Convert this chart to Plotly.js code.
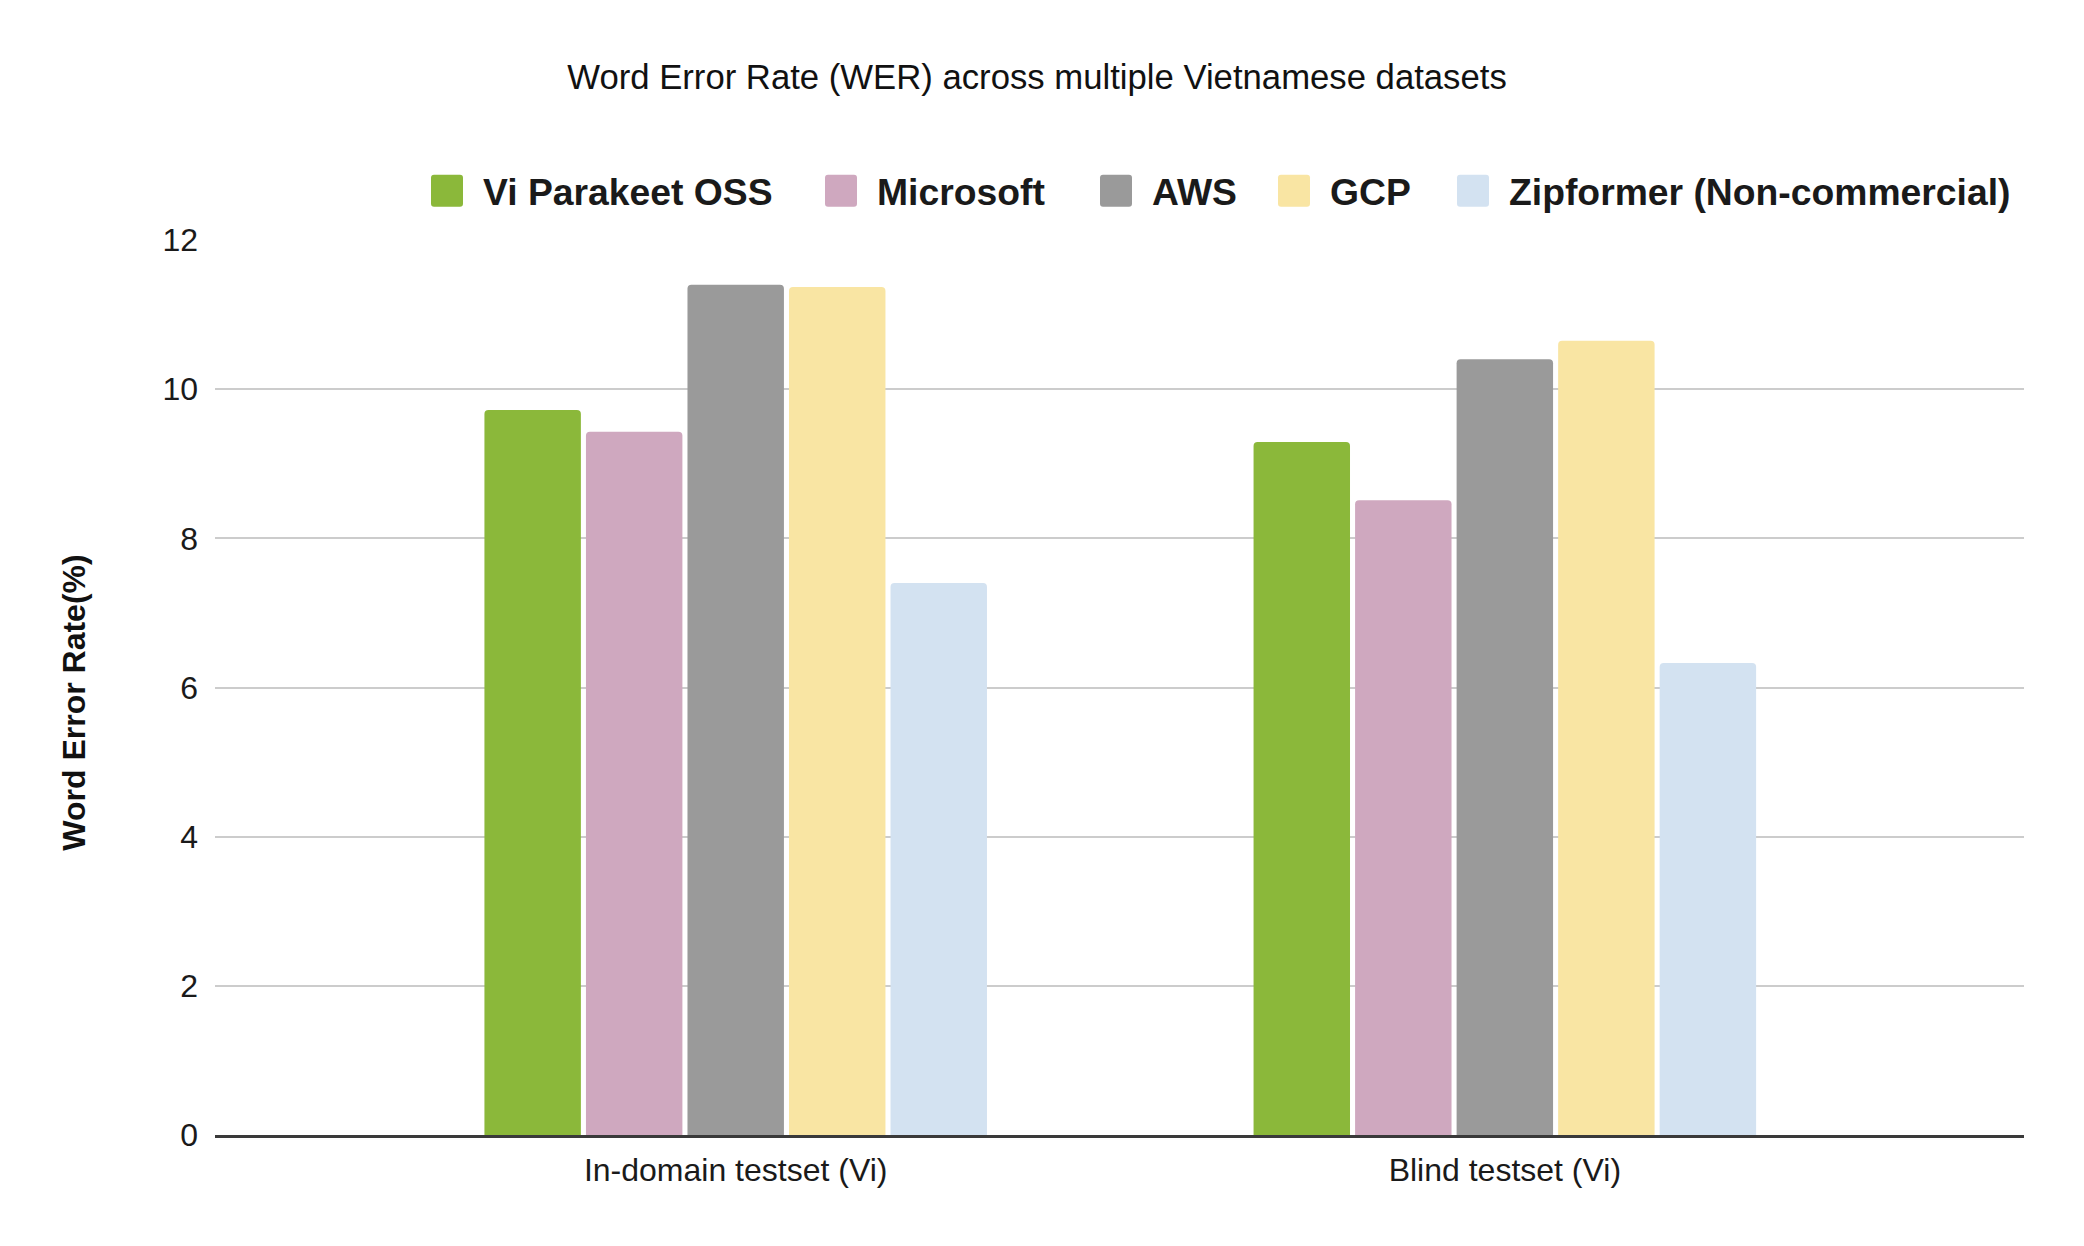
<!DOCTYPE html>
<html><head><meta charset="utf-8">
<script src="https://cdn.plot.ly/plotly-3.0.1.min.js"></script>
<style>html,body{margin:0;padding:0;background:#fff}#chart{width:2084px;height:1246px}</style>
</head><body><div id="chart"></div>
<script>
// ---- data ----
const categories = ['In-domain testset (Vi)', 'Blind testset (Vi)'];
const seriesNames = ['Vi Parakeet OSS', 'Microsoft', 'AWS', 'GCP', 'Zipformer (Non-commercial)'];
const viParakeetOSS = [9.72, 9.29];
const microsoft = [9.43, 8.51];
const aws = [11.40, 10.40];
const gcp = [11.37, 10.65];
const zipformer = [7.40, 6.33];
const yTickValues = [0, 2, 4, 6, 8, 10, 12];
const chartTitle = 'Word Error Rate (WER) across multiple Vietnamese datasets';
const yAxisTitle = 'Word Error Rate(%)';

// ---- style ----
const colors = ['#8bb83a', '#cfa8bf', '#9a9a9a', '#f9e5a3', '#d3e2f1'];
const FONT = 'Liberation Sans, Arial, sans-serif';
const legendSymbolLeft = [431, 825, 1100, 1278, 1457];
const seriesValues = [viParakeetOSS, microsoft, aws, gcp, zipformer];

const traces = seriesNames.map((name, i) => ({
  type: 'bar',
  name: name,
  x: categories,
  y: seriesValues[i],
  marker: { color: colors[i], cornerradius: 4, line: { width: 0 } },
  hoverinfo: 'x+y+name'
}));

const layout = {
  width: 2084, height: 1246,
  paper_bgcolor: '#ffffff', plot_bgcolor: '#ffffff',
  margin: { l: 215, r: 60, t: 240, b: 111 },
  font: { family: FONT, color: '#1a1a1a' },
  title: { text: chartTitle, x: 1037 / 2084, xref: 'container', xanchor: 'center', y: 1 - 77 / 1246, yref: 'container', yanchor: 'middle', font: { size: 34.7, family: FONT, color: '#111' } },
  barmode: 'group', bargap: 0.34, bargroupgap: 0.05,
  xaxis: {
    type: 'category', range: [-0.677, 1.675],
    showgrid: false, zeroline: false, showline: true, linecolor: '#3a3a3a', linewidth: 3,
    ticks: '', tickfont: { size: 32, family: FONT, color: '#1a1a1a' }, ticklabelstandoff: 5
  },
  yaxis: {
    range: [0, 12], tickvals: yTickValues, ticktext: yTickValues.map(String),
    showgrid: true, gridcolor: '#cccccc', gridwidth: 2, zeroline: false, showline: false,
    ticks: '', tickfont: { size: 32, family: FONT, color: '#1a1a1a' }, ticklabelstandoff: 16,
    title: { text: yAxisTitle, font: { size: 32, family: FONT, color: '#111', weight: 'bold' }, standoff: 67 }
  },
  legend: {
    orientation: 'h', xref: 'container', yref: 'container', x: 405 / 2084, xanchor: 'left', y: 1 - 191 / 1246, yanchor: 'middle',
    font: { size: 37.3, family: FONT, color: '#1a1a1a', weight: 'bold' }, itemwidth: 62, bgcolor: 'rgba(0,0,0,0)', traceorder: 'normal'
  },
  showlegend: true
};

Plotly.newPlot('chart', traces, layout, { displayModeBar: false, staticPlot: true }).then(gd => {
  const rounded = 'M-13,-16H13A3,3 0 0 1 16,-13V13A3,3 0 0 1 13,16H-13A3,3 0 0 1 -16,13V-13A3,3 0 0 1 -13,-16Z';
  const sb = gd.querySelector('.legend .scrollbox');
  if (sb) sb.removeAttribute('clip-path');
  const host = gd.getBoundingClientRect();
  gd.querySelectorAll('.legend g.traces').forEach((g, i) => {
    const p = g.querySelector('.legendpoints path');
    if (!p) return;
    p.setAttribute('d', rounded);
    const r = p.getBoundingClientRect();
    const delta = legendSymbolLeft[i] - (r.left - host.left);
    const tr = g.getAttribute('transform') || '';
    g.setAttribute('transform', 'translate(' + delta + ',0) ' + tr);
  });
  const yt = gd.querySelector('.ytitle');
  if (yt) yt.setAttribute('transform', 'translate(0,15) ' + (yt.getAttribute('transform') || ''));
});
</script>
</body></html>
